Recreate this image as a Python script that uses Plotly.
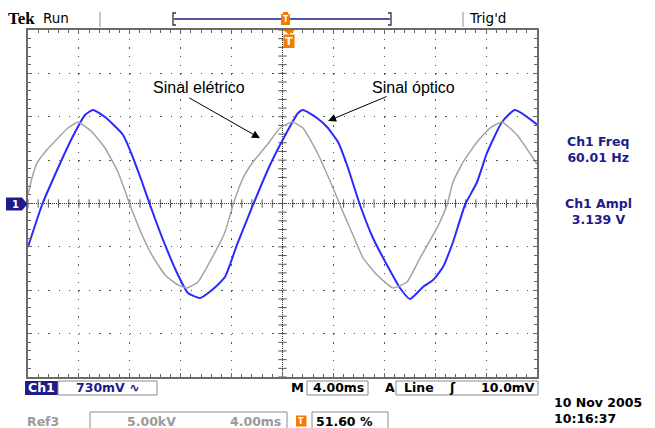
import numpy as np
import plotly.graph_objects as go

# ---------------- data ----------------
# Ch1 : optical signal, time in ms (trigger at 0), amplitude in volts (730 mV/div)
ch1_t = [-20.0, -18.90, -17.64, -16.54, -15.52, -14.89, -13.95, -12.53, -11.83, -11.04,
         -10.41, -9.23, -8.21, -7.43, -6.48, -5.54, -4.52, -3.58, -2.32, -0.98,
         0.35, 1.22, 1.61, 2.71, 3.50, 4.36, 5.07, 6.09, 7.11, 8.21,
         9.23, 10.02, 11.04, 11.83, 12.61, 13.40, 14.34, 15.29, 16.07, 17.25,
         18.27, 20.0]
ch1_v = [-0.732, -0.025, 0.597, 1.102, 1.489, 1.574, 1.456, 1.153, 0.816, 0.362,
         -0.025, -0.698, -1.203, -1.506, -1.590, -1.456, -1.237, -0.698, -0.025, 0.648,
         1.203, 1.523, 1.574, 1.439, 1.287, 1.035, 0.648, -0.025, -0.581, -1.035,
         -1.422, -1.607, -1.405, -1.287, -1.069, -0.648, -0.025, 0.362, 0.850, 1.372,
         1.574, 1.330]

# Ref3 : electrical signal, time in ms, amplitude in kV (5.00 kV/div)
ref3_t = [-20.0, -19.69, -19.29, -18.66, -17.64, -16.86, -16.07, -14.97, -13.95, -12.93,
          -11.98, -11.04, -10.26, -9.23, -8.21, -7.50, -6.64, -5.54, -4.52, -3.89,
          -3.10, -2.32, -1.22, -0.20, 0.75, 1.61, 2.71, 3.97, 4.75, 5.54,
          6.33, 7.43, 8.68, 9.78, 10.81, 12.14, 12.93, 13.40, 14.19, 15.29,
          16.31, 17.25, 18.43, 20.0]
ref3_kv = [0.98, 2.94, 4.67, 5.94, 7.55, 8.70, 9.39, 8.24, 6.40, 3.63,
           -0.17, -3.63, -5.94, -8.24, -9.39, -9.74, -9.05, -6.28, -3.29, -0.17,
           2.94, 4.78, 6.74, 8.70, 9.39, 8.70, 5.94, 1.79, -0.98, -3.63,
           -6.28, -8.24, -9.74, -9.05, -6.28, -2.82, -0.17, 2.48, 4.78, 7.09,
           8.70, 9.39, 7.90, 4.55]

ch1_vdiv = 0.73      # V/div
ref3_vdiv = 5.0      # kV/div
t_div = 4.0          # ms/div

# ---------------- geometry helpers (layout only) ----------------
W, H = 655, 428
L, R, T, B = 28, 537, 30, 377
def PX(x):
    return (x - L) / (R - L)
def PY(y):
    return (B - y) / (B - T)

NAVY = "#1c1c8a"
ORANGE = "#f07d00"
GRAYTXT = "#9a9a9a"
SCOPE_FONT = "DejaVu Sans"

fig = go.Figure()

# center graticule tick marks (1/5 division)
xt = np.arange(-5 * t_div, 5 * t_div + 1e-9, t_div / 5)
yt = np.arange(-4 * ch1_vdiv, 4 * ch1_vdiv + 1e-9, ch1_vdiv / 5)
fig.add_trace(go.Scatter(x=xt, y=np.zeros_like(xt), mode="markers", hoverinfo="skip",
                         marker=dict(symbol="line-ns", size=6, line=dict(width=1, color="#555"))))
fig.add_trace(go.Scatter(x=np.zeros_like(yt), y=yt, mode="markers", hoverinfo="skip",
                         marker=dict(symbol="line-ew", size=6, line=dict(width=1, color="#555"))))

# waveforms
fig.add_trace(go.Scatter(x=ref3_t, y=ref3_kv, mode="lines", yaxis="y2", name="Ref3",
                         line=dict(color="#a3a3a3", width=1.5, shape="spline", smoothing=0.4)))
fig.add_trace(go.Scatter(x=ch1_t, y=ch1_v, mode="lines", name="Ch1",
                         line=dict(color="#2a2aff", width=2, shape="spline", smoothing=0.5)))

fig.update_layout(
    width=W, height=H,
    margin=dict(l=L, r=W - R, t=T, b=H - B, pad=0),
    paper_bgcolor="white", plot_bgcolor="rgba(0,0,0,0)",
    showlegend=False,
    xaxis=dict(range=[-5 * t_div, 5 * t_div], dtick=t_div, tick0=0, showticklabels=False,
               showgrid=True, gridcolor="#555", gridwidth=1.3, griddash="1.3px,7.38px",
               zeroline=False, showline=True, linecolor="#6a6a6a", linewidth=2, mirror="ticks",
               ticks="inside", ticklen=4, tickcolor="#666",
               minor=dict(dtick=t_div / 5, ticks="inside", ticklen=3, tickcolor="#666", showgrid=False),
               fixedrange=True),
    yaxis=dict(range=[-4 * ch1_vdiv, 4 * ch1_vdiv], dtick=ch1_vdiv, tick0=0, showticklabels=False,
               showgrid=True, gridcolor="#555", gridwidth=1.3, griddash="1.3px,8.88px",
               zeroline=False, showline=True, linecolor="#6a6a6a", linewidth=2, mirror="ticks",
               ticks="inside", ticklen=4, tickcolor="#666",
               minor=dict(dtick=ch1_vdiv / 5, ticks="inside", ticklen=3, tickcolor="#666", showgrid=False),
               fixedrange=True),
    yaxis2=dict(range=[-4 * ref3_vdiv, 4 * ref3_vdiv], overlaying="y", visible=False, fixedrange=True),
)

shapes = []
def line(x0, y0, x1, y1, color, width=1, dash=None, layer="above"):
    d = dict(type="line", xref="paper", yref="paper", x0=PX(x0), y0=PY(y0), x1=PX(x1), y1=PY(y1),
             line=dict(color=color, width=width), layer=layer)
    if dash:
        d["line"]["dash"] = dash
    shapes.append(d)
def rect(x0, y0, x1, y1, fill=None, lc=None, lw=1):
    d = dict(type="rect", xref="paper", yref="paper", x0=PX(x0), y0=PY(y0), x1=PX(x1), y1=PY(y1),
             line=dict(color=lc if lc else "rgba(0,0,0,0)", width=lw if lc else 0))
    if fill:
        d["fillcolor"] = fill
    shapes.append(d)
def path(pts, fill=None, lc=None, lw=1, close=True):
    s = "M " + " L ".join(f"{PX(x):.5f},{PY(y):.5f}" for x, y in pts) + (" Z" if close else "")
    d = dict(type="path", xref="paper", yref="paper", path=s,
             line=dict(color=lc if lc else "rgba(0,0,0,0)", width=lw if lc else 0))
    if fill:
        d["fillcolor"] = fill
    shapes.append(d)

# center crosshair (dense dots)
line(L, (T + B) / 2, R, (T + B) / 2, "#333", 1, "1px,1px", layer="below")
line((L + R) / 2, T, (L + R) / 2, B, "#333", 1, "1px,1px", layer="below")

# top status bar
line(100, 12, 100, 27, "#b5b5b5", 1.5)
line(463, 12, 463, 27, "#b5b5b5", 1.5)
line(174, 19, 390, 19, NAVY, 1.5)
path([(176, 13), (173, 13), (173, 25), (176, 25)], lc="#333", lw=1.3, close=False)
path([(388, 13), (391, 13), (391, 25), (388, 25)], lc="#333", lw=1.3, close=False)
rect(281, 14, 290, 25, fill=ORANGE)
path([(283, 12), (288, 12), (288, 15), (283, 15)], fill=ORANGE)
# trigger marker at top of graticule
path([(283, 30), (295, 30), (289, 34.5)], fill=ORANGE)
rect(283.5, 34.5, 294.5, 48, fill=ORANGE)
# channel 1 ground marker
path([(6, 197.5), (22, 197.5), (27.5, 204), (22, 210.5), (6, 210.5)], fill=NAVY)

# bottom status boxes
rect(25, 381, 58, 395, fill=NAVY)
rect(58, 381, 157, 395, lc="#8c8c8c")
rect(307, 381, 368, 395, lc="#8c8c8c")
rect(396, 381, 538, 395, lc="#8c8c8c")
rect(90, 412, 287, 440, lc="#8c8c8c")
rect(296, 415.5, 306.5, 426.5, fill=ORANGE)
rect(312, 412, 388, 440, lc="#8c8c8c")

fig.update_layout(shapes=shapes)

ann = []
def txt(x, y, s, size=12, color="black", xanchor="left", family=SCOPE_FONT, yanchor="middle", align="center"):
    ann.append(dict(x=PX(x), y=PY(y), xref="paper", yref="paper", text=s, showarrow=False,
                    xanchor=xanchor, yanchor=yanchor, align=align,
                    font=dict(family=family, size=size, color=color)))

txt(6, 18.5, "<b>Tek</b>", 17, "black", family="Liberation Serif")
txt(41, 18, "Run", 13.5)
txt(467, 18, "Trig'd", 13.5)
txt(285.5, 20, "<b>T</b>", 8, "white", "center")
txt(289, 41.5, "<b>T</b>", 11, "white", "center")
txt(15, 204, "<b>1</b>", 10, "white", "center")

txt(597.5, 149.5, "<b>Ch1 Freq<br>60.01 Hz</b>", 12.5, NAVY, "center")
txt(598, 211, "<b>Ch1 Ampl<br>3.139 V</b>", 12.5, NAVY, "center")

txt(41.5, 388, "<b>Ch1</b>", 12.5, "white", "center")
txt(74, 388, "<b>730mV ∿</b>", 12.5, NAVY)
txt(306, 388, "<b>M</b>", 13, "black", "right")
txt(338, 388, "<b>4.00ms</b>", 12.5, "black", "center")
txt(390, 388, "<b>A</b>", 12.5, "black", "center")
txt(402, 388, "<b>Line</b>", 12.5)
txt(452, 388, "<b>ʃ</b>", 12.5, "black", "center")
txt(537, 388, "<b>10.0mV</b>", 12.5, "black", "right")

txt(25, 421, "<b>Ref3</b>", 12.5, GRAYTXT)
txt(151, 421, "<b>5.00kV</b>", 12.5, GRAYTXT, "center")
txt(255, 421, "<b>4.00ms</b>", 12.5, GRAYTXT, "center")
txt(301.3, 421, "<b>T</b>", 8, "white", "center")
txt(314, 421, "<b>51.60 %</b>", 12.5)
txt(552, 428, "<b>10 Nov 2005<br>10:16:37</b>", 12.5, "black", "left", yanchor="bottom", align="left")

# callouts
txt(199, 87, "Sinal elétrico", 16, "black", "center", family="Liberation Sans")
txt(413.5, 87, "Sinal óptico", 16, "black", "center", family="Liberation Sans")
ann.append(dict(x=-1.77, y=1.10, xref="x", yref="y", text="", showarrow=True,
                ax=-72, ay=-41, arrowhead=2, arrowsize=1.6, arrowwidth=1, arrowcolor="black", standoff=0))
ann.append(dict(x=3.58, y=1.39, xref="x", yref="y", text="", showarrow=True,
                ax=60, ay=-25, arrowhead=2, arrowsize=1.6, arrowwidth=1, arrowcolor="black", standoff=0))
fig.update_layout(annotations=ann)

fig.write_html("out.html")
